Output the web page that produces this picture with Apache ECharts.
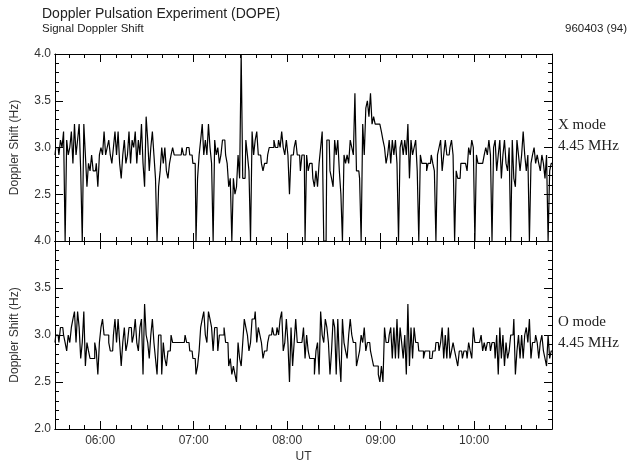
<!DOCTYPE html>
<html>
<head>
<meta charset="utf-8">
<script src="https://cdn.jsdelivr.net/npm/echarts@6/dist/echarts.min.js"></script>
<style>
  html, body { margin: 0; padding: 0; background: #fff; }
  #chart { width: 635px; height: 464px; }
</style>
</head>
<body>
<div id="chart"></div>
<script>
// one sample per minute, UT minutes from 05:31 to 10:50
const startMinute = 331;
const endMinute = 650;

const hourTicks = [360, 420, 480, 540, 600];
const hourLabels = ['06:00', '07:00', '08:00', '09:00', '10:00'];
const minuteTicks = [340, 350, 370, 380, 390, 400, 410, 430, 440, 450, 460, 470,
  490, 500, 510, 520, 530, 550, 560, 570, 580, 590, 610, 620, 630, 640];

// X mode 4.45 MHz (dropouts sit at the bottom of the panel)
const xModeShift = [
  2.92, 3.0, 3.0, 2.92, 3.08, 3.0, 3.17, 2.0, 3.08, 2.92,
  3.0, 3.17, 2.83, 3.25, 2.92, 3.08, 3.25, 2.75, 2.0, 3.25,
  2.92, 2.58, 2.83, 2.75, 2.92, 2.75, 2.75, 2.83, 2.58, 2.92,
  3.0, 2.92, 3.17, 2.92, 3.0, 3.08, 2.92, 2.83, 3.0, 3.17,
  2.92, 3.17, 2.83, 2.67, 2.92, 3.08, 2.83, 2.92, 3.17, 2.83,
  3.08, 3.0, 3.17, 2.83, 3.08, 2.92, 3.25, 2.83, 2.58, 3.33,
  3.08, 2.75, 3.0, 3.17, 2.92, 2.67, 2.0, 2.58, 2.75, 3.0,
  2.83, 3.0, 2.75, 2.67, 2.83, 2.92, 3.0, 2.92, 2.92, 2.92,
  2.92, 2.92, 3.0, 2.92, 2.92, 3.0, 3.0, 2.92, 2.92, 2.83,
  2.83, 2.0, 2.67, 2.92, 3.08, 3.25, 2.92, 3.08, 2.92, 3.25,
  3.0, 2.83, 2.0, 3.08, 2.92, 3.0, 2.83, 2.92, 3.08,
  3.08, 2.92, 2.83, 2.58, 2.67, 2.0, 2.67, 2.5, 2.58, 2.92,
  2.67, 4.0, 2.67, 2.67, 3.08, 2.92, 2.75, 2.0, 3.17, 2.92,
  3.08, 3.17, 2.92, 2.92, 2.83, 2.75, 2.83, 2.83, 2.92, 3.0,
  3.0, 3.0, 3.08, 3.0, 3.0, 3.08, 3.0, 3.17, 3.0, 2.92,
  3.08, 2.92, 2.5, 2.92, 2.92, 3.0, 3.08, 2.92, 2.92, 2.75,
  2.92, 2.92, 2.0, 2.92, 2.75, 2.83, 2.83, 2.67, 2.58, 2.75,
  2.58, 2.83, 3.0, 3.17, 2.0, 2.0, 3.08, 3.08, 2.75, 2.67,
  2.58, 3.08, 2.92, 3.08, 2.75, 2.5, 2.0, 2.92, 2.83, 2.92,
  2.83, 3.08, 3.0, 2.92, 3.58, 2.75, 2.75, 2.67, 2.0, 3.25,
  2.92, 3.42, 3.5, 3.33, 3.58, 3.25, 3.33, 3.25, 3.25, 3.25,
  3.25, 3.17, 3.08, 3.0, 2.83, 2.92,
  3.08, 2.83, 3.08, 2.92, 3.08, 2.83, 2.0, 3.0, 3.08, 2.92,
  3.08, 2.92, 3.25, 2.67, 3.08, 2.92, 3.0, 3.08, 2.75, 2.0,
  2.92, 2.83, 2.83, 2.83, 2.75, 2.83, 2.83, 2.92, 2.83, 2.75,
  2.0, 2.92, 3.0, 3.08, 2.75, 2.92, 3.08, 2.92, 2.92, 3.0,
  3.08, 2.92, 2.0, 2.75, 2.67, 2.67, 2.83, 2.83, 2.83, 2.83,
  2.75, 3.0, 2.92, 3.08, 3.0, 2.0, 2.92, 2.83, 2.83, 2.83,
  2.83, 2.92, 3.0, 2.92, 3.08, 2.92, 2.0, 3.0, 3.08, 2.75,
  2.92, 3.08, 2.67, 2.92, 3.08, 2.83, 2.75, 3.0, 2.0, 3.08,
  2.67, 2.58, 3.08, 2.92, 2.75, 2.92, 3.17, 2.92, 2.75, 2.92,
  2.0, 2.83, 2.92, 3.0, 2.83, 2.92, 2.83, 2.75, 2.92, 2.83,
  2.67, 2.92, 2.0, 2.75, 2.83
];

// O mode 4.45 MHz
const oModeShift = [
  2.92, 3.0, 3.0, 2.92, 3.08, 3.08, 3.0, 2.92, 2.83, 3.0,
  2.92, 3.08, 3.17, 3.25, 2.92, 3.25, 3.08, 2.75, 2.92, 3.25,
  2.67, 2.92, 2.83, 2.75, 2.75, 2.75, 2.92, 2.83, 2.58, 2.92,
  3.08, 3.17, 3.0, 3.0, 3.0, 2.92, 2.83, 2.83, 3.0, 3.17,
  2.92, 3.17, 2.92, 2.67, 2.92, 3.08, 2.83, 2.92, 3.08, 3.08,
  2.92, 3.0, 3.17, 2.92, 2.83, 3.08, 3.17, 2.58, 3.33, 3.0,
  2.92, 2.75, 3.0, 3.17, 2.92, 2.75, 2.58, 3.0, 3.0, 2.58,
  2.92, 2.75, 2.67, 2.83, 2.83, 3.0, 2.92, 2.92, 2.92, 2.92,
  2.92, 2.92, 2.92, 2.92, 3.0, 2.92, 2.92, 2.83, 2.83, 2.75,
  2.75, 2.58, 2.67, 2.83, 3.08, 3.17, 3.25, 3.0, 2.92, 3.25,
  3.17, 3.08, 2.83, 3.08, 3.08, 2.83, 3.0, 3.0, 3.0,
  3.08, 2.92, 2.92, 2.67, 2.75, 2.58, 2.67, 2.58, 2.5, 2.92,
  2.75, 2.67, 2.92, 3.17, 3.08, 3.0, 2.83, 2.92, 3.17, 3.17,
  3.25, 2.92, 3.08, 3.0, 2.92, 2.75, 2.83, 2.83, 2.92, 3.0,
  3.0, 3.08, 3.0, 3.0, 3.08, 3.0, 3.17, 3.25, 2.83, 2.92,
  3.17, 2.92, 2.5, 3.08, 2.67, 2.92, 3.17, 2.92, 2.92, 2.92,
  2.92, 3.08, 2.75, 3.0, 2.83, 2.75, 2.75, 2.75, 2.58, 2.83,
  2.92, 2.58, 3.25, 3.0, 2.92, 3.17, 3.08, 2.92, 2.58, 2.83,
  3.17, 3.08, 2.58, 3.17, 2.75, 2.5, 3.17, 2.92, 2.83, 2.75,
  3.0, 3.17, 3.0, 2.92, 2.92, 2.67, 2.75, 2.83, 3.0, 2.92,
  3.08, 2.83, 2.92, 2.92, 2.83, 2.75, 2.67, 2.67, 2.67, 2.58,
  2.5, 2.67, 2.5, 3.08, 2.92, 2.92,
  3.0, 3.08, 2.75, 3.08, 2.75, 3.17, 2.75, 3.08, 2.92, 2.75,
  3.0, 2.58, 3.33, 2.67, 3.08, 2.75, 3.08, 2.92, 2.92, 2.83,
  2.83, 2.83, 2.75, 2.83, 2.83, 2.83, 2.75, 2.75, 2.83, 2.83,
  2.92, 2.92, 2.83, 2.92, 3.08, 2.75, 3.0, 2.75, 3.08, 2.75,
  2.83, 2.92, 2.83, 2.75, 2.67, 2.83, 2.83, 2.75, 2.83, 2.83,
  2.75, 2.92, 2.83, 2.75, 3.08, 2.92, 2.92, 2.92, 2.92, 3.0,
  2.83, 2.92, 2.83, 2.92, 2.92, 2.83, 2.92, 2.92, 2.75, 3.0,
  2.58, 3.08, 2.75, 3.0, 2.67, 2.92, 2.75, 2.83, 3.0, 3.0,
  3.17, 2.58, 2.83, 3.0, 2.75, 3.0, 2.75, 3.0, 3.08, 2.92,
  3.17, 2.75, 2.92, 2.92, 3.0, 2.92, 2.75, 2.92, 3.0, 2.83,
  2.75, 2.67, 3.0, 2.75, 2.83
];

const sans = "'Liberation Sans', Arial, sans-serif";
const serif = "'Liberation Serif', 'Times New Roman', serif";

const toPoints = arr => arr.map((v, i) => [startMinute + i, v]);

function timeAxis(gridIndex, position, ticks, len, withLabels) {
  const axis = {
    type: 'value',
    gridIndex: gridIndex,
    position: position,
    min: startMinute,
    max: endMinute,
    axisLine: { show: true, onZero: false, lineStyle: { color: '#000', width: 1 } },
    axisTick: { show: true, inside: true, length: len, customValues: ticks, lineStyle: { color: '#000' } },
    axisLabel: { show: false },
    splitLine: { show: false }
  };
  if (withLabels) {
    axis.axisLabel = {
      show: true,
      customValues: hourTicks,
      formatter: v => hourLabels[hourTicks.indexOf(v)],
      color: '#333',
      fontSize: 12,
      fontFamily: sans,
      margin: 6
    };
    axis.name = 'UT';
    axis.nameLocation = 'middle';
    axis.nameGap = 22;
    axis.nameTextStyle = { color: '#333', fontSize: 12, fontFamily: sans };
  }
  return axis;
}

function shiftAxis(gridIndex, position, withLabels, hideMin) {
  return {
    type: 'value',
    gridIndex: gridIndex,
    position: position,
    min: 2,
    max: 4,
    interval: 0.5,
    name: withLabels ? 'Doppler Shift (Hz)' : '',
    nameLocation: 'middle',
    nameGap: 34,
    nameTextStyle: { color: '#333', fontSize: 12, fontFamily: sans },
    axisLine: { show: true, lineStyle: { color: '#000', width: 1 } },
    axisTick: { show: true, inside: true, length: 8, lineStyle: { color: '#000' } },
    minorTick: { show: true, splitNumber: 5, length: 4, lineStyle: { color: '#000' } },
    axisLabel: {
      show: withLabels,
      showMinLabel: !hideMin,
      formatter: v => v.toFixed(1),
      color: '#333',
      fontSize: 12,
      fontFamily: sans,
      margin: 4
    },
    splitLine: { show: false },
    minorSplitLine: { show: false }
  };
}

const chart = echarts.init(document.getElementById('chart'), null, { renderer: 'canvas' });

chart.setOption({
  animation: false,
  backgroundColor: '#fff',
  grid: [
    { left: 55, right: 83, top: 54, height: 187 },
    { left: 55, right: 83, top: 241, height: 188 }
  ],
  xAxis: [
    timeAxis(0, 'bottom', minuteTicks, 4, false),
    timeAxis(0, 'bottom', hourTicks, 8, false),
    timeAxis(0, 'top', minuteTicks, 4, false),
    timeAxis(0, 'top', hourTicks, 8, false),
    timeAxis(1, 'bottom', minuteTicks, 4, false),
    timeAxis(1, 'bottom', hourTicks, 8, true),
    timeAxis(1, 'top', minuteTicks, 4, false),
    timeAxis(1, 'top', hourTicks, 8, false)
  ],
  yAxis: [
    shiftAxis(0, 'left', true, true),
    shiftAxis(0, 'right', false, false),
    shiftAxis(1, 'left', true, false),
    shiftAxis(1, 'right', false, false)
  ],
  graphic: [
    { type: 'text', left: 42, top: 7, style: { text: 'Doppler Pulsation Experiment (DOPE)', fill: '#222', font: '14px ' + sans } },
    { type: 'text', left: 42, top: 23, style: { text: 'Signal Doppler Shift', fill: '#222', font: '11.5px ' + sans } },
    { type: 'text', right: 8, top: 23, style: { text: '960403 (94)', fill: '#222', font: '11.5px ' + sans } },
    { type: 'text', left: 558, top: 115, style: { text: 'X mode\n4.45 MHz', fill: '#222', font: '15px ' + serif, lineHeight: 21 } },
    { type: 'text', left: 558, top: 312, style: { text: 'O mode\n4.45 MHz', fill: '#222', font: '15px ' + serif, lineHeight: 21 } }
  ],
  series: [
    {
      name: 'X mode',
      type: 'line',
      xAxisIndex: 0,
      yAxisIndex: 0,
      data: toPoints(xModeShift),
      step: 'middle',
      showSymbol: false,
      clip: true,
      lineStyle: { color: '#000', width: 1.2 }
    },
    {
      name: 'O mode',
      type: 'line',
      xAxisIndex: 4,
      yAxisIndex: 2,
      data: toPoints(oModeShift),
      step: 'middle',
      showSymbol: false,
      clip: true,
      lineStyle: { color: '#000', width: 1.2 }
    }
  ]
});

window.addEventListener('resize', chart.resize);
</script>
</body>
</html>
